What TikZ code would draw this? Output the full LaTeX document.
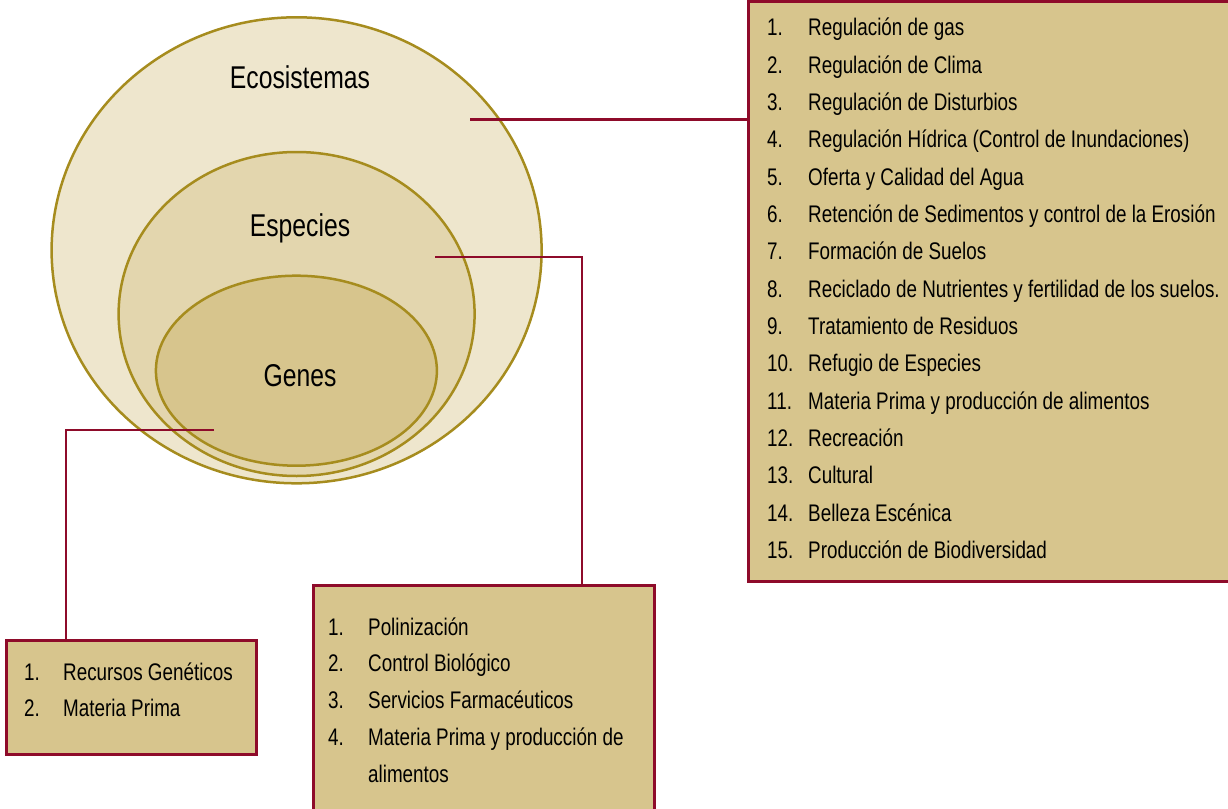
\documentclass[tikz,border=0pt]{standalone}
\usepackage{fontspec}
\setmainfont[FakeStretch=0.785]{Liberation Sans}
\usetikzlibrary{shapes.geometric}
\definecolor{ecofill}{HTML}{EEE6CD}
\definecolor{espfill}{HTML}{E3D6AE}
\definecolor{genfill}{HTML}{D7C58D}
\definecolor{boxfill}{HTML}{D7C58D}
\definecolor{ellline}{HTML}{A68C1E}
\definecolor{redline}{HTML}{8E0B2A}
\begin{document}
\begin{tikzpicture}[x=1pt,y=-1pt,
  ell/.style={ellipse,draw=ellline,line width=2.5pt,inner sep=0pt,outer sep=0pt},
  lab/.style={anchor=base,inner sep=0pt,font=\fontsize{31.5}{36}\selectfont},
  box/.style={rectangle,draw=redline,fill=boxfill,line width=3pt,inner sep=0pt,outer sep=0pt,anchor=north west},
  conn/.style={draw=redline,line width=2.8pt},
  item/.style={anchor=base west,inner sep=0pt,font=\fontsize{24}{28}\selectfont}]
\useasboundingbox (0,0) rectangle (1228,808);
\clip (0,0) rectangle (1228,808);
% ellipses
\node[ell,fill=ecofill,minimum width=490pt,minimum height=466pt] (eco) at (296.6,250.3) {};
\node[ell,fill=espfill,minimum width=356pt,minimum height=324pt] (esp) at (296.6,314) {};
\node[ell,fill=genfill,minimum width=281pt,minimum height=190pt] (gen) at (296.4,370.7) {};
\node[lab] (ecolab) at (300,88.3) {Ecosistemas};
\node[lab] (esplab) at (300,236.7) {Especies};
\node[lab] (genlab) at (300,386.7) {Genes};
% boxes
\node[box,minimum width=500pt,minimum height=579.5pt] (rbox) at (748,1.5) {};
\node[box,minimum width=341pt,minimum height=260pt] (mbox) at (313,585) {};
\node[box,minimum width=250pt,minimum height=114pt] (lbox) at (6,640) {};
% connectors
\coordinate (ce) at (470,119.5);
\coordinate (cs) at (435,257);
\coordinate (mtop) at (582,585);
\coordinate (cg) at (214,430);
\coordinate (ltop) at (66,640);
\draw[conn] (ce) -- (ce -| rbox.west);
\draw[conn] (cs) -| (mtop);
\draw[conn] (cg) -| (ltop);
% right list
\foreach \t [count=\i] in {Regulación de gas,Regulación de Clima,Regulación de Disturbios,Regulación Hídrica (Control de Inundaciones),Oferta y Calidad del Agua,Retención de Sedimentos y control de la Erosión,Formación de Suelos,Reciclado de Nutrientes y fertilidad de los suelos.,Tratamiento de Residuos,Refugio de Especies,Materia Prima y producción de alimentos,Recreación,Cultural,Belleza Escénica,Producción de Biodiversidad}{
  \node[item] (rn\i) at (767,{35.7+37.35*(\i-1)}) {\i.};
  \node[item] (rt\i) at (808,{35.7+37.35*(\i-1)}) {\t};
}
% middle list
\foreach \t [count=\i] in {Polinización,Control Biológico,Servicios Farmacéuticos,Materia Prima y producción de}{
  \node[item] (mn\i) at (328,{635+36.8*(\i-1)}) {\i.};
  \node[item] (mt\i) at (368,{635+36.8*(\i-1)}) {\t};
}
\node[item] (mt5) at (368,782.3) {alimentos};
% left list
\node[item] (ln1) at (24,680) {1.};
\node[item] (lt1) at (63,680) {Recursos Genéticos};
\node[item] (ln2) at (24,716.7) {2.};
\node[item] (lt2) at (63,716.7) {Materia Prima};
\end{tikzpicture}
\end{document}
